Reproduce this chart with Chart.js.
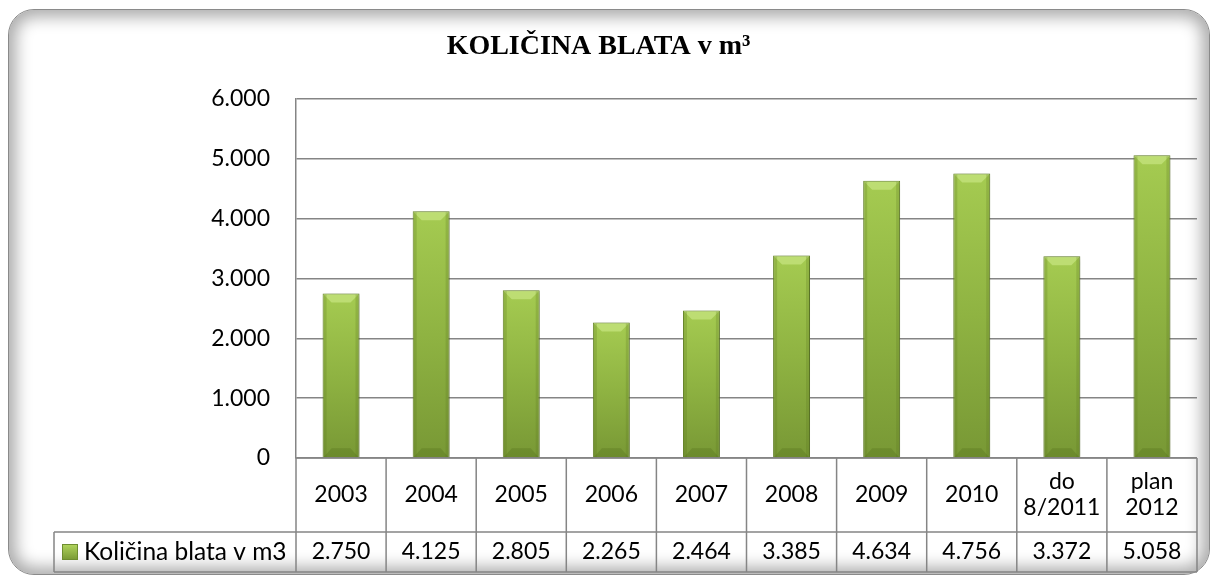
<!DOCTYPE html>
<html>
<head>
<meta charset="utf-8">
<script src="https://cdn.jsdelivr.net/npm/chart.js@4"></script>
<style>
  html, body { margin: 0; padding: 0; background: #fff; }
  #frame {
    position: absolute; left: 8px; top: 9px; width: 1202px; height: 566px;
    border-radius: 26px; border: 1px solid #8a8a8a; box-sizing: border-box;
    box-shadow: inset 0 0 16px 7px rgba(0, 0, 0, 0.33);
  }
  #wrap { position: absolute; left: 0; top: 0; width: 1217px; height: 580px; }
</style>
</head>
<body>
<div id="frame"></div>
<div id="wrap"><canvas id="chart" width="1217" height="580"></canvas></div>
<script>
// data
const categories = [['2003'], ['2004'], ['2005'], ['2006'], ['2007'], ['2008'], ['2009'], ['2010'], ['do', '8/2011'], ['plan', '2012']];
const seriesName = 'Količina blata v m3';
const values = [2750, 4125, 2805, 2265, 2464, 3385, 4634, 4756, 3372, 5058];
const yMin = 0;
const yMax = 6000;
const yStep = 1000;
const titleText = 'KOLIČINA BLATA v m³';

const FONT = 'Lato';
const lineCol = '#858585';

// 2750 -> "2.750"
function fmt(v) {
  return String(v).replace(/\B(?=(\d{3})+(?!\d))/g, '.');
}

function barFill(c) {
  const chart = c.chart;
  if (!chart.chartArea || c.type !== 'data') return '#8eb241';
  const y = chart.scales.y;
  const v = c.parsed ? c.parsed.y : c.raw;
  const top = y.getPixelForValue(v);
  const base = y.getPixelForValue(0);
  const g = chart.ctx.createLinearGradient(0, top, 0, base);
  g.addColorStop(0, '#a5cb51');
  g.addColorStop(0.5, '#8fb342');
  g.addColorStop(1, '#789835');
  return g;
}

// shadow + bevel on the bars
const barLook = {
  id: 'barLook',
  beforeDatasetsDraw(chart) {
    const ctx = chart.ctx;
    ctx.save();
    ctx.shadowColor = 'rgba(0,0,0,0.28)';
    ctx.shadowBlur = 6;
    ctx.shadowOffsetX = 2;
    ctx.shadowOffsetY = 1;
  },
  afterDatasetsDraw(chart) {
    const ctx = chart.ctx;
    ctx.restore();
    const meta = chart.getDatasetMeta(0);
    meta.data.forEach(bar => {
      const w = bar.width;
      const l = bar.x - w / 2, r = bar.x + w / 2;
      const t = bar.y, b = bar.base;
      const d = 9;
      ctx.save();
      // top bevel
      ctx.fillStyle = 'rgba(200,230,130,0.7)';
      ctx.beginPath();
      ctx.moveTo(l + 1, t + 1); ctx.lineTo(r - 1, t + 1);
      ctx.lineTo(r - d, t + d); ctx.lineTo(l + d, t + d);
      ctx.closePath(); ctx.fill();
      // side bevels
      ctx.fillStyle = 'rgba(90,120,30,0.25)';
      ctx.fillRect(l + 1, t + 1, 3, b - t - 1);
      ctx.fillRect(r - 4, t + 1, 3, b - t - 1);
      // bottom bevel
      ctx.fillStyle = 'rgba(70,100,20,0.25)';
      ctx.beginPath();
      ctx.moveTo(l + 1, b); ctx.lineTo(r - 1, b);
      ctx.lineTo(r - d, b - d); ctx.lineTo(l + d, b - d);
      ctx.closePath(); ctx.fill();
      ctx.restore();
    });
  }
};

// data table under the plot
const dataTable = {
  id: 'dataTable',
  afterDraw(chart) {
    const ctx = chart.ctx;
    const a = chart.chartArea;
    const x = chart.scales.x;
    const n = categories.length;
    const colW = (a.right - a.left) / n;
    const rowTop = a.bottom, rowMid = a.bottom + 74, rowBot = a.bottom + 114;
    const legendLeft = 54;

    ctx.save();
    ctx.strokeStyle = lineCol;
    ctx.lineWidth = 1.5;
    ctx.beginPath();
    ctx.moveTo(a.left, rowTop); ctx.lineTo(a.right, rowTop);
    ctx.moveTo(legendLeft, rowMid); ctx.lineTo(a.right, rowMid);
    ctx.moveTo(legendLeft, rowBot); ctx.lineTo(a.right, rowBot);
    for (let i = 0; i <= n; i++) {
      const ex = a.left + i * colW;
      ctx.moveTo(ex, rowTop); ctx.lineTo(ex, rowBot);
    }
    ctx.moveTo(legendLeft, rowMid); ctx.lineTo(legendLeft, rowBot);
    ctx.stroke();

    ctx.fillStyle = '#000';
    ctx.font = '23px ' + FONT;
    ctx.textAlign = 'center';
    ctx.textBaseline = 'middle';
    const catMid = (rowTop + rowMid) / 2;
    const valMid = (rowMid + rowBot) / 2;
    categories.forEach((lines, i) => {
      const cx = x.getPixelForValue(i);
      const lh = 26;
      lines.forEach((s, j) => {
        ctx.fillText(s, cx, catMid + (j - (lines.length - 1) / 2) * lh);
      });
      ctx.fillText(fmt(values[i]), cx, valMid);
    });

    // legend key
    const g = ctx.createLinearGradient(0, valMid - 8, 0, valMid + 8);
    g.addColorStop(0, '#b2d65e');
    g.addColorStop(1, '#789835');
    ctx.fillStyle = g;
    ctx.fillRect(62, valMid - 8, 16, 16);
    ctx.strokeStyle = '#6e8d30';
    ctx.lineWidth = 1;
    ctx.strokeRect(62.5, valMid - 7.5, 15, 15);
    ctx.fillStyle = '#000';
    ctx.textAlign = 'left';
    ctx.font = '24.5px ' + FONT;
    ctx.fillText(seriesName, 84, valMid);
    ctx.restore();
  }
};

const ctx = document.getElementById('chart').getContext('2d');
const chart = new Chart(ctx, {
  type: 'bar',
  data: {
    labels: categories,
    datasets: [{
      label: seriesName,
      data: values,
      backgroundColor: barFill,
      borderColor: '#6e8d30',
      borderWidth: 1,
      categoryPercentage: 0.41,
      barPercentage: 1
    }]
  },
  options: {
    responsive: false,
    animation: false,
    layout: { padding: { left: 0, right: 20, top: 0, bottom: 122 } },
    plugins: {
      legend: { display: false },
      tooltip: { enabled: false },
      title: {
        display: true,
        text: titleText,
        color: '#000',
        font: { family: 'Liberation Serif', size: 28, weight: 'bold', lineHeight: 1.2 },
        padding: { top: 30, bottom: 35.4 }
      }
    },
    scales: {
      x: { display: false },
      y: {
        min: yMin,
        max: yMax,
        afterFit(s) { s.width = 296; },
        ticks: {
          stepSize: yStep,
          padding: 26,
          color: '#000',
          font: { family: FONT, size: 23 },
          callback: v => fmt(v)
        },
        grid: { color: lineCol, lineWidth: 1.5, drawTicks: false },
        border: { display: true, color: lineCol, width: 1.5 }
      }
    }
  },
  plugins: [barLook, dataTable]
});
</script>
</body>
</html>
